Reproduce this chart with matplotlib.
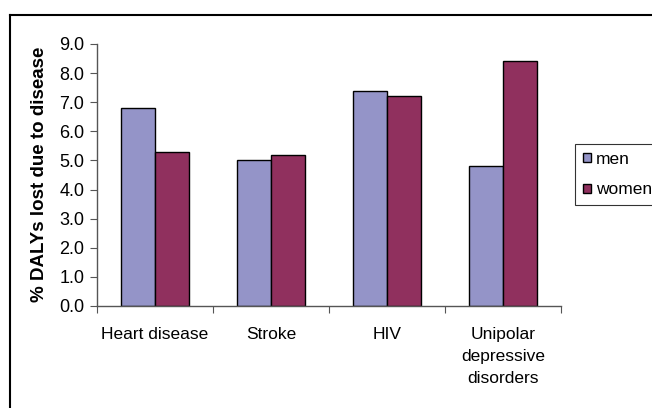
import numpy as np
import matplotlib.pyplot as plt
from matplotlib.lines import Line2D

plt.rcParams['font.family'] = ['Liberation Sans', 'DejaVu Sans']

categories = ['Heart disease', 'Stroke', 'HIV', 'Unipolar\ndepressive\ndisorders']
men = [6.8, 5.0, 7.4, 4.8]
women = [5.3, 5.2, 7.2, 8.4]
yticks = np.arange(0, 9.01, 1.0)

fig = plt.figure(figsize=(6.52, 4.08), dpi=100)
ax = fig.add_axes([97/652, 1-306/408, (561-97)/652, (306-44)/408])

x = np.arange(len(categories))
w = 0.293
ax.bar(x - w/2, men, w, color='#9494C8', edgecolor='black', linewidth=1.0, label='men')
ax.bar(x + w/2, women, w, color='#90305E', edgecolor='black', linewidth=1.0, label='women')

ax.set_xlim(-0.5, len(categories) - 0.5)
ax.set_ylim(0, 9)
ax.set_yticks(yticks)
ax.set_yticklabels([f'{v:.1f}' for v in yticks], fontsize=13)

# category labels sit between boundary ticks
ax.set_xticks(np.arange(len(categories) + 1) - 0.5)
ax.set_xticklabels([])
ax.set_xticks(x, minor=True)
ax.set_xticklabels(categories, minor=True, fontsize=12.5, linespacing=1.6)
ax.tick_params(axis='x', which='minor', length=0, pad=15)
ax.tick_params(axis='x', which='major', length=5, color='#555555', direction='out')
ax.tick_params(axis='y', length=5, color='#555555', pad=4)

for side in ['top', 'right']:
    ax.spines[side].set_visible(False)
for side in ['left', 'bottom']:
    ax.spines[side].set_color('#555555')
    ax.spines[side].set_linewidth(1.0)

fig.text(40/652, 1-174/408, '% DALYs lost due to disease', rotation=90,
         fontsize=13.5, fontweight='bold', ha='center', va='center')

leg = ax.legend(loc='upper left', bbox_to_anchor=(575/652, 1-144/408),
                bbox_transform=fig.transFigure, fontsize=12.5, frameon=True,
                fancybox=False, handlelength=0.45, handleheight=0.45,
                handletextpad=0.3, borderpad=0.45, labelspacing=0.9,
                borderaxespad=0)
leg.get_frame().set_edgecolor('black')
leg.get_frame().set_linewidth(0.8)

# chart area border on left and top
fig.add_artist(Line2D([10/652, 1.0], [1-14.5/408, 1-14.5/408], color='black', lw=1.5,
                      transform=fig.transFigure))
fig.add_artist(Line2D([10/652, 10/652], [0, 1-14.5/408], color='black', lw=1.5,
                      transform=fig.transFigure))

fig.savefig('out.png', dpi=100)
